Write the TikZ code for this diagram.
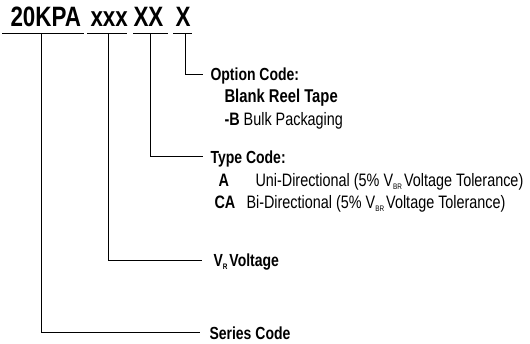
\documentclass[tikz,border=0pt]{standalone}
\usepackage{fontspec}
\setmainfont{Liberation Sans}[FakeStretch=0.8]
\newcommand\lsub[1]{\raisebox{-3pt}{\fontsize{8}{8}\selectfont #1}}
\begin{document}
\begin{tikzpicture}[x=1pt,y=-1pt,line width=1pt,
  title/.style={font=\bfseries\fontsize{28}{28}\selectfont, anchor=base west, inner sep=0pt},
  lbl/.style={font=\bfseries\fontsize{17.5}{18}\selectfont, anchor=base west, inner ysep=0pt, inner xsep=7pt, text height=13pt, text depth=0pt},
  txt/.style={font=\fontsize{18}{19}\selectfont, anchor=base west, inner sep=0pt},
  btxt/.style={txt, font=\bfseries\fontsize{18}{19}\selectfont},
  uline/.style={line width=1pt},
  conn/.style={line width=1pt}]
\useasboundingbox (0,0) rectangle (530,343);
% title parts
\node[title] (t1) at (10,26) {20KPA};
\node[title] (t2) at (90,26) {xxx};
\node[title] (t3) at (133,26) {XX};
\node[title] (t4) at (175,26) {X};
% underline ends
\coordinate (a1) at (2,33);   \coordinate (b1) at (84,33);
\coordinate (a2) at (87,33);  \coordinate (b2) at (127,33);
\coordinate (a3) at (133,33); \coordinate (b3) at (168,33);
\coordinate (a4) at (173,33); \coordinate (b4) at (192,33);
\draw[uline] (a1) -- (b1);
\draw[uline] (a2) -- (b2);
\draw[uline] (a3) -- (b3);
\draw[uline] (a4) -- (b4);
% drop points
\coordinate (d1) at (41.7,33);
\coordinate (d2) at (108.3,33);
\coordinate (d3) at (150,33);
\coordinate (d4) at (185,33);
% labels
\node[lbl] (opt) at (203,80.5) {Option Code:};
\node[btxt, font=\bfseries\fontsize{18.5}{19}\selectfont] (blank) at (224,102.7) {Blank Reel Tape};
\node[txt] (bulk) at (224,125.5) {\textbf{-B} Bulk Packaging};
\node[lbl] (type) at (203,163) {Type Code:};
\node[btxt] (ta) at (218,186.7) {A};
\node[txt] (uni) at (255,186.7) {Uni-Directional (5\% V\lsub{BR}\hspace{2pt}Voltage Tolerance)};
\node[btxt] (tca) at (214,208.3) {CA};
\node[txt] (bi) at (246,208.3) {Bi-Directional (5\% V\lsub{BR}\hspace{2pt}Voltage Tolerance)};
\node[lbl, inner xsep=11pt] (vr) at (202,266.7) {V\lsub{R}\hspace{2pt}Voltage};
\node[lbl, inner xsep=9pt] (ser) at (200,339.3) {Series Code};
% connectors
\draw[conn] (d4) |- (opt.west);
\draw[conn] (d3) |- (type.west);
\draw[conn] (d2) |- (vr.west);
\draw[conn] (d1) |- (ser.west);
\end{tikzpicture}
\end{document}
